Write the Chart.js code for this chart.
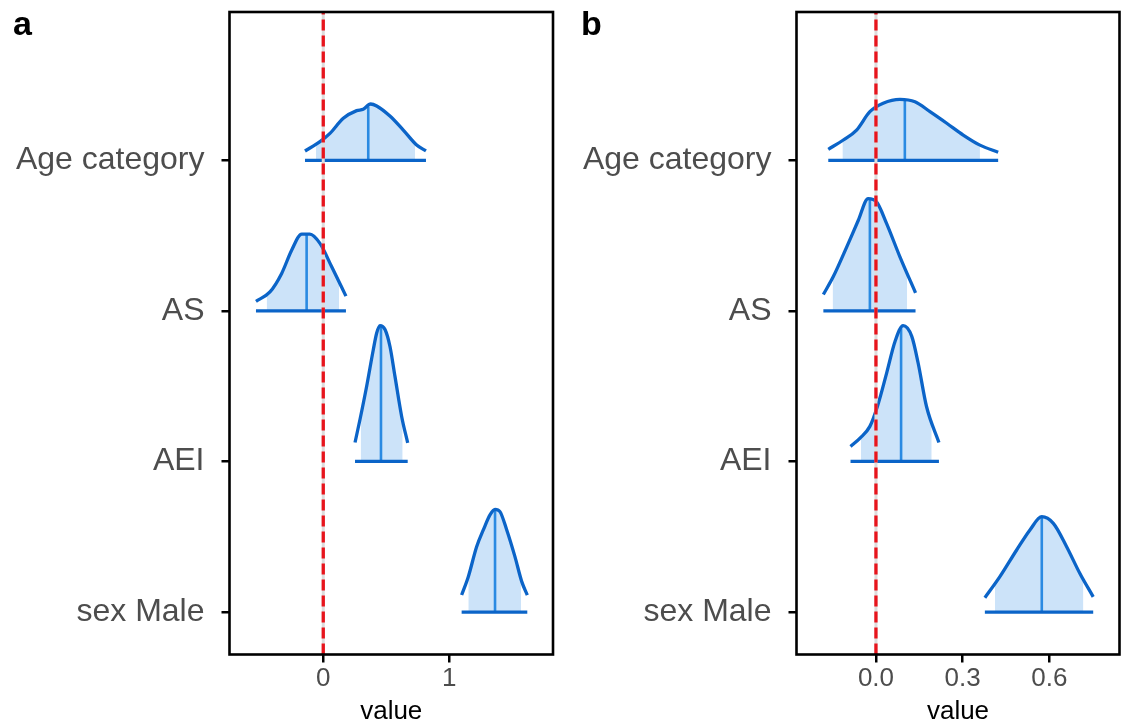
<!DOCTYPE html>
<html>
<head>
<meta charset="utf-8">
<script src="https://cdn.jsdelivr.net/npm/chart.js@4.4.1/dist/chart.umd.min.js"></script>
<style>
  html, body { margin: 0; padding: 0; background: #ffffff; }
  body { width: 1128px; height: 723px; position: relative; overflow: hidden; font-family: "Liberation Sans", Arial, sans-serif; }
  .panel { position: absolute; top: 0; height: 723px; }
  .tag { position: absolute; top: 6px; font-size: 34px; line-height: 34px; font-weight: bold; color: #000; }
</style>
</head>
<body>
<div class="panel" id="panelA" style="left:0px;width:566px;"><canvas id="chartA"></canvas></div>
<div class="panel" id="panelB" style="left:566px;width:562px;"><canvas id="chartB"></canvas></div>
<div class="tag" style="left:13px;">a</div>
<div class="tag" style="left:581px;">b</div>
<script>
// parameters, bottom to top (baseline at 1..4)
const categories = ['sex Male', 'AEI', 'AS', 'Age category'];

// panel a: density outlines (x value, height above baseline)
const sexA_x = [1.098, 1.151, 1.217, 1.270, 1.323, 1.363, 1.402, 1.456, 1.521, 1.575, 1.619];
const sexA_h = [0.113, 0.235, 0.434, 0.545, 0.645, 0.682, 0.667, 0.545, 0.368, 0.202, 0.113];
const aeiA_x = [0.252, 0.291, 0.344, 0.397, 0.424, 0.450, 0.490, 0.529, 0.569, 0.622, 0.670];
const aeiA_h = [0.126, 0.277, 0.498, 0.742, 0.853, 0.902, 0.876, 0.765, 0.565, 0.299, 0.123];
const asA_x = [-0.534, -0.423, -0.330, -0.251, -0.171, -0.106, -0.026, 0.067, 0.180];
const asA_h = [0.064, 0.126, 0.249, 0.403, 0.510, 0.510, 0.448, 0.293, 0.098];
const ageA_x = [-0.145, -0.026, 0.053, 0.159, 0.265, 0.317, 0.376, 0.424, 0.529, 0.635, 0.741, 0.815];
const ageA_h = [0.062, 0.124, 0.179, 0.279, 0.330, 0.339, 0.374, 0.361, 0.294, 0.201, 0.102, 0.062];
const medianA = [1.363, 0.458, -0.132, 0.357];
const medianHA = [0.682, 0.902, 0.510, 0.356];
const innerA = [[1.151, 1.569], [0.297, 0.630], [-0.449, 0.125], [-0.058, 0.728]];
const innerHA = [[0.235, 0.210], [0.280, 0.260], [0.100, 0.190], [0.100, 0.113]];
const xTicksA = [0, 1];
const xLabelsA = ['0', '1'];

// panel b
const sexB_x = [0.377, 0.429, 0.487, 0.533, 0.574, 0.614, 0.660, 0.706, 0.752];
const sexB_h = [0.095, 0.235, 0.412, 0.545, 0.633, 0.589, 0.434, 0.256, 0.101];
const aeiB_x = [-0.088, -0.055, -0.021, 0.005, 0.037, 0.066, 0.094, 0.124, 0.146, 0.175, 0.218];
const aeiB_h = [0.100, 0.155, 0.233, 0.365, 0.587, 0.797, 0.902, 0.831, 0.654, 0.365, 0.126];
const asB_x = [-0.182, -0.148, -0.101, -0.061, -0.027, 0.002, 0.037, 0.083, 0.137];
const asB_h = [0.109, 0.226, 0.425, 0.602, 0.746, 0.724, 0.580, 0.359, 0.120];
const ageB_x = [-0.165, -0.113, -0.067, -0.021, 0.025, 0.083, 0.135, 0.187, 0.245, 0.302, 0.360, 0.423];
const ageB_h = [0.073, 0.135, 0.201, 0.323, 0.379, 0.405, 0.389, 0.323, 0.246, 0.168, 0.101, 0.053];
const medianB = [0.574, 0.087, -0.021, 0.100];
const medianHB = [0.633, 0.897, 0.736, 0.396];
const innerB = [[0.412, 0.718], [-0.052, 0.193], [-0.150, 0.108], [-0.116, 0.360]];
const innerHB = [[0.190, 0.220], [0.160, 0.270], [0.220, 0.240], [0.130, 0.100]];
const xTicksB = [0, 0.3, 0.6];
const xLabelsB = ['0.0', '0.3', '0.6'];

const OUTLINE = '#0b64c8';
const MEDIAN = '#2a8ae2';
const FILL = '#cce3f9';

function buildDatasets(curves, medians, medianH, inner, innerH, yMin, yMax) {
  const sets = [];
  curves.forEach(([xs, hs], i) => {
    const base = i + 1;
    const curve = xs.map((x, j) => ({ x: x, y: base + hs[j] }));
    const [lo, hi] = inner[i];
    const shaded = [{ x: lo, y: base + innerH[i][0] }]
      .concat(curve.filter(p => p.x > lo && p.x < hi))
      .concat([{ x: hi, y: base + innerH[i][1] }]);
    sets.push({ data: shaded, fill: { value: base }, backgroundColor: FILL, borderWidth: 0,
      cubicInterpolationMode: 'monotone', order: 5 });
    sets.push({ data: [{ x: medians[i], y: base }, { x: medians[i], y: base + medianH[i] }],
      borderColor: MEDIAN, borderWidth: 2.6, order: 4 });
    sets.push({ data: curve, borderColor: OUTLINE, borderWidth: 3.3,
      cubicInterpolationMode: 'monotone', order: 3 });
    sets.push({ data: [{ x: xs[0], y: base }, { x: xs[xs.length - 1], y: base }],
      borderColor: OUTLINE, borderWidth: 3.3, order: 3 });
  });
  // reference line at zero
  sets.push({ data: [{ x: 0, y: yMin }, { x: 0, y: yMax }], borderColor: '#dcdcdc', borderWidth: 3, order: 1 });
  sets.push({ data: [{ x: 0, y: yMin }, { x: 0, y: yMax }], borderColor: '#e8141c', borderWidth: 3.3,
    borderDash: [11, 5], order: 0 });
  return sets;
}

const frame = {
  id: 'frame',
  afterDraw(chart) {
    const { ctx, chartArea: a } = chart;
    ctx.save();
    ctx.strokeStyle = '#000';
    ctx.lineWidth = 2.6;
    ctx.strokeRect(a.left, a.top, a.right - a.left, a.bottom - a.top);
    ctx.restore();
  }
};

function noPad(s) {
  s.paddingTop = 0; s.paddingBottom = 0; s.paddingLeft = 0; s.paddingRight = 0;
}

function makeChart(id, datasets, xMin, xMax, xTicks, xLabels, yWidth, padRight) {
  const yMin = 0.718, yMax = 4.985;
  new Chart(document.getElementById(id), {
    type: 'line',
    data: { datasets: datasets },
    plugins: [frame],
    options: {
      responsive: true,
      maintainAspectRatio: false,
      animation: false,
      events: [],
      layout: { padding: { top: 12, right: padRight, bottom: 0, left: 0 } },
      elements: { point: { radius: 0 }, line: { fill: false, borderCapStyle: 'butt' } },
      plugins: { legend: { display: false }, tooltip: { enabled: false } },
      scales: {
        x: {
          type: 'linear', min: xMin, max: xMax,
          afterBuildTicks: s => { s.ticks = xTicks.map(v => ({ value: v })); },
          afterFit: s => { s.height = 68.5; noPad(s); },
          border: { display: false },
          grid: { drawOnChartArea: false, drawTicks: true, tickLength: 8, color: '#000', lineWidth: 2.5 },
          ticks: { color: '#4d4d4d', font: { family: 'Liberation Sans', size: 26 }, padding: 1,
            maxRotation: 0, callback: (v, i) => xLabels[i] },
          title: { display: true, text: 'value', color: '#000', font: { family: 'Liberation Sans', size: 26 },
            padding: { top: 0, bottom: -4 } }
        },
        y: {
          type: 'linear', min: yMin, max: yMax,
          afterBuildTicks: s => { s.ticks = [1, 2, 3, 4].map(v => ({ value: v })); },
          afterFit: s => { s.width = yWidth; noPad(s); },
          border: { display: false },
          grid: { drawOnChartArea: false, drawTicks: true, tickLength: 8, color: '#000', lineWidth: 2.5 },
          ticks: { color: '#4d4d4d', font: { family: 'Liberation Sans', size: 32 }, padding: 17,
            callback: (v, i) => categories[i] }
        }
      }
    }
  });
}

const yLo = 0.718, yHi = 4.985;
makeChart('chartA',
  buildDatasets([[sexA_x, sexA_h], [aeiA_x, aeiA_h], [asA_x, asA_h], [ageA_x, ageA_h]],
    medianA, medianHA, innerA, innerHA, yLo, yHi),
  -0.744, 1.823, xTicksA, xLabelsA, 229.5, 13);
makeChart('chartB',
  buildDatasets([[sexB_x, sexB_h], [aeiB_x, aeiB_h], [asB_x, asB_h], [ageB_x, ageB_h]],
    medianB, medianHB, innerB, innerHB, yLo, yHi),
  -0.275, 0.843, xTicksB, xLabelsB, 230.5, 8.5);
</script>
</body>
</html>
